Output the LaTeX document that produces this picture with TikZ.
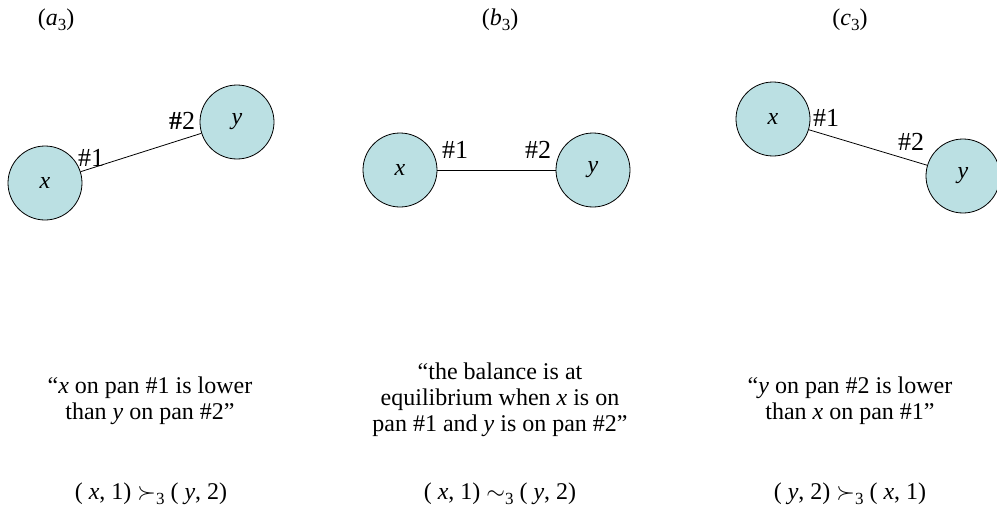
\documentclass[tikz,border=0pt]{standalone}
\usepackage{fontspec}
\setmainfont{Liberation Serif}
\usepackage{xcolor}
\usetikzlibrary{positioning}

\definecolor{panfill}{RGB}{187,224,227}
\newcommand{\lowsub}[1]{\raisebox{-0.45ex}{\fontsize{8.5pt}{8.5pt}\selectfont #1}}

\begin{document}
\begin{tikzpicture}[x=0.5pt, y=-0.5pt, thin, font=\fontsize{12pt}{13pt}\selectfont,
    pan/.style={circle, draw, fill=panfill, minimum size=37pt, inner sep=0pt, font=\fontsize{12pt}{13pt}\selectfont\itshape},
    mark label/.style={inner sep=0pt, font=\fontsize{13pt}{14pt}\selectfont},
    caption/.style={align=center, inner sep=0pt}]
    \useasboundingbox (0,0) rectangle (997,514);

    % titles
    \node (TitleA) at (56,20) {(\textit{a}\lowsub{3})};
    \node (TitleB) at (500,20) {(\textit{b}\lowsub{3})};
    \node (TitleC) at (850,20) {(\textit{c}\lowsub{3})};

    % (a) x lower than y
    \node (AX) [pan] at (45,183) {x};
    \node (AY) [pan] at (237,122) {y};
    \draw (AX) -- (AY);
    \node (AOne) [mark label] at (91,158) {\#1};
    \node (ATwo) [mark label] at (182,121) {\textbf{\#}2};

    % (b) equilibrium
    \node (BX) [pan] at (400,170) {x};
    \node (BY) [pan] at (593,170) {y};
    \draw (BX) -- (BY);
    \node (BOne) [mark label] at (455,150) {\#1};
    \node (BTwo) [mark label] at (538,150) {\#2};

    % (c) y lower than x
    \node (CX) [pan] at (773,119) {x};
    \node (CY) [pan] at (963,176) {y};
    \draw (CX) -- (CY);
    \node (COne) [mark label] at (826,118) {\#1};
    \node (CTwo) [mark label] at (911,142) {\#2};

    % descriptions
    \node (DescA) [caption] at (150,401) {“\textit{x} on pan \#1 is lower\\than \textit{y} on pan \#2”};
    \node (DescB) [caption] at (500,400) {“the balance is at\\equilibrium when \textit{x} is on\\pan \#1 and \textit{y} is on pan \#2”};
    \node (DescC) [caption] at (850,401) {“\textit{y} on pan \#2 is lower\\than \textit{x} on pan \#1”};

    % relations
    \node (RelA) at (151,494) {( \textit{x}, 1) $\succ$\lowsub{3} ( \textit{y}, 2)};
    \node (RelB) at (500,494) {( \textit{x}, 1) $\sim$\lowsub{3} ( \textit{y}, 2)};
    \node (RelC) at (850,494) {( \textit{y}, 2) $\succ$\lowsub{3} ( \textit{x}, 1)};
\end{tikzpicture}
\end{document}
